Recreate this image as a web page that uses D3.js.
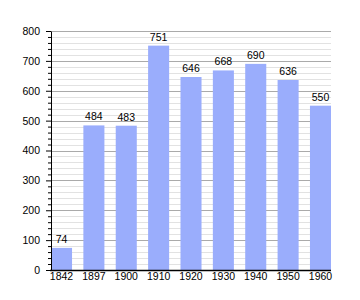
<!DOCTYPE html>
<html>
<head>
<meta charset="utf-8">
<script src="https://cdn.jsdelivr.net/npm/d3@7"></script>
<style>
  body { margin: 0; background: #fff; }
  svg text { font-family: "Liberation Sans", Arial, sans-serif; fill: #000; }
</style>
</head>
<body>
<div id="chart"></div>
<script>
// population by census year
const years = ["1842", "1897", "1900", "1910", "1920", "1930", "1940", "1950", "1960"];
const population = [74, 484, 483, 751, 646, 668, 690, 636, 550];
const yTicks = [0, 100, 200, 300, 400, 500, 600, 700, 800];

const width = 360, height = 300;
const margin = { top: 31, right: 29, bottom: 30, left: 51 };
const fontSize = 10.5;

const svg = d3.select("#chart").append("svg")
    .attr("width", width)
    .attr("height", height);

const x = d3.scaleBand()
    .domain(years)
    .range([margin.left, width - margin.right])
    .paddingInner(0.35)
    .paddingOuter(0);

const y = d3.scaleLinear()
    .domain([0, 800])
    .range([height - margin.bottom, margin.top]);

// minor grid every 20
const minor = d3.range(20, 801, 20).filter(v => v % 100 !== 0);
svg.append("g")
    .selectAll("line")
    .data(minor)
    .join("line")
    .attr("x1", margin.left)
    .attr("x2", width - margin.right)
    .attr("y1", d => Math.round(y(d)) + 0.5)
    .attr("y2", d => Math.round(y(d)) + 0.5)
    .attr("stroke", "#e2e2e2");

// major grid every 100
svg.append("g")
    .selectAll("line")
    .data(yTicks.slice(1))
    .join("line")
    .attr("x1", margin.left)
    .attr("x2", width - margin.right)
    .attr("y1", d => Math.round(y(d)) + 0.5)
    .attr("y2", d => Math.round(y(d)) + 0.5)
    .attr("stroke", "#aaaaaa");

// bars
svg.append("g")
    .selectAll("rect")
    .data(population)
    .join("rect")
    .attr("x", (d, i) => x(years[i]))
    .attr("y", d => y(d))
    .attr("width", x.bandwidth())
    .attr("height", d => y(0) - y(d))
    .attr("fill", "#9aadfc");

// value labels
svg.append("g")
    .selectAll("text")
    .data(population)
    .join("text")
    .attr("x", (d, i) => x(years[i]) + x.bandwidth() / 2)
    .attr("y", d => y(d) - 5)
    .attr("text-anchor", "middle")
    .attr("font-size", fontSize)
    .text(d => d);

// y axis with minor ticks
const yAxis = svg.append("g")
    .attr("transform", `translate(${margin.left},0)`);
yAxis.call(d3.axisLeft(y).tickValues(minor).tickSize(3).tickFormat(""));
yAxis.call(g => g.select(".domain").remove());
const yMajor = svg.append("g")
    .attr("transform", `translate(${margin.left},0)`)
    .call(d3.axisLeft(y).tickValues(yTicks).tickSize(5).tickPadding(6).tickSizeOuter(0));
yMajor.selectAll("text").attr("font-size", fontSize).attr("font-family", null);
svg.selectAll(".tick line").attr("stroke", "#000");
yMajor.select(".domain").attr("stroke", "#000");

// x axis
const xAxis = svg.append("g")
    .attr("transform", `translate(0,${y(0)})`)
    .call(d3.axisBottom(x).tickSize(0).tickPadding(3));
xAxis.select(".domain").attr("d", `M${margin.left - 1},0.5H${width - margin.right}`).attr("stroke", "#000").attr("stroke-width", 1.5);
xAxis.selectAll("text").attr("font-size", fontSize).attr("font-family", null);
</script>
</body>
</html>
